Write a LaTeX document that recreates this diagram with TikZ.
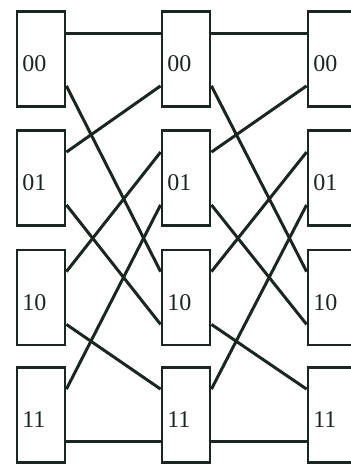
\documentclass[tikz,border=0pt]{standalone}
\usepackage{fontspec}
\setmainfont{Liberation Serif}
\usetikzlibrary{calc}
\definecolor{ink}{RGB}{28,38,32}
\begin{document}
\begin{tikzpicture}[x=1pt,y=1pt,
  box/.style={draw=ink,line width=2.8pt,minimum width=48pt,minimum height=95pt,inner sep=0pt},
  lbl/.style={anchor=west,inner sep=0pt,text=ink,font=\fontsize{24}{24}\selectfont},
  wire/.style={draw=ink,line width=3pt}]
\useasboundingbox (0,0) rectangle (351,-464);
\clip (0,0) rectangle (351,-464);
% boxes
\foreach \c/\x in {L/41,M/186,R/332}{
  \foreach \r/\y/\t in {a/59/00,b/178/01,c/297.5/10,d/415/11}{
    \node[box] (\c\r) at (\x,-\y) {};
    \node[lbl] (\c\r t) at ([xshift=6.5pt,yshift=-5pt]\c\r.west) {\t};
    \coordinate (\c\r EU) at ([yshift=-23pt]\c\r.north east);
    \coordinate (\c\r ED) at ([yshift=22pt]\c\r.south east);
    \coordinate (\c\r WU) at ([yshift=-23pt]\c\r.north west);
    \coordinate (\c\r WD) at ([yshift=22pt]\c\r.south west);
  }
}
% connectors between columns
\foreach \p/\q in {L/M,M/R}{
  \draw[wire] (\p aEU) -- (\q aWU);
  \draw[wire] (\p aED) -- (\q cWU);
  \draw[wire] (\p bEU) -- (\q aWD);
  \draw[wire] (\p bED) -- (\q cWD);
  \draw[wire] (\p cEU) -- (\q bWU);
  \draw[wire] (\p dEU) -- (\q bWD);
  \draw[wire] (\p cED) -- (\q dWU);
  \draw[wire] (\p dED) -- (\q dWD);
}
\end{tikzpicture}
\end{document}
